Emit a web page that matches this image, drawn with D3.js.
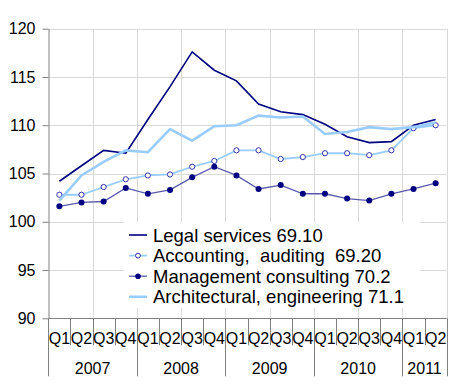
<!DOCTYPE html>
<html>
<head>
<meta charset="utf-8">
<script src="https://cdn.jsdelivr.net/npm/d3@7"></script>
<style>
  body { margin: 0; background: #fff; }
  svg { display: block; font-family: Arial, "Liberation Sans", sans-serif; }
  .grid line { stroke: #d9d9d9; stroke-width: 1; }
  .axis line, .axis path { stroke: #808080; }
  .tickLabel { font-size: 16px; fill: #000; }
  .legendText { font-size: 18.5px; fill: #000; }
</style>
</head>
<body>
<svg id="chart" width="450" height="389"></svg>
<script>
// quarters, 2007Q1 .. 2011Q2
var quarters = ['Q1', 'Q2', 'Q3', 'Q4', 'Q1', 'Q2', 'Q3', 'Q4', 'Q1', 'Q2', 'Q3', 'Q4',
                'Q1', 'Q2', 'Q3', 'Q4', 'Q1', 'Q2'];
var years = ['2007', '2008', '2009', '2010', '2011'];
var yearQuarters = [4, 4, 4, 4, 2];
var yTicks = [90, 95, 100, 105, 110, 115, 120];

var seriesNames = ['Legal services 69.10', 'Accounting,  auditing  69.20',
                   'Management consulting 70.2', 'Architectural, engineering 71.1'];

var legal      = [104.2, 105.8, 107.4, 107.1, 110.6, 114.0, 117.6, 115.7, 114.6, 112.2,
                  111.4, 111.1, 110.1, 108.8, 108.2, 108.3, 110.0, 110.6];
var accounting = [102.8, 102.8, 103.6, 104.4, 104.8, 104.9, 105.7, 106.3, 107.4, 107.4,
                  106.5, 106.7, 107.1, 107.1, 106.9, 107.4, 109.7, 110.0];
var management = [101.6, 102.0, 102.1, 103.5, 102.9, 103.3, 104.6, 105.7, 104.8, 103.4,
                  103.8, 102.9, 102.9, 102.4, 102.2, 102.9, 103.4, 104.0];
var architect  = [102.2, 104.8, 106.2, 107.4, 107.2, 109.6, 108.4, 109.9, 110.0, 111.0,
                  110.8, 110.9, 109.1, 109.3, 109.8, 109.6, 109.8, 110.3];

var svg = d3.select('#chart');
var plotLeft = 48.3, plotRight = 446.7, plotTop = 28.7, plotBottom = 318.3;

var idx = d3.range(quarters.length);
var x = d3.scaleBand().domain(idx).range([plotLeft, plotRight]);
var y = d3.scaleLinear().domain([90, 120]).range([plotBottom, plotTop]);
var px = function(v) { return Math.round(v) + 0.5; };
var edge = function(i) { return px(plotLeft + i * x.bandwidth()); };

// gridlines
var grid = svg.append('g').classed('grid', true);
grid.selectAll('.h').data(yTicks).enter().append('line')
    .attr('x1', plotLeft).attr('x2', plotRight)
    .attr('y1', function(d) { return px(y(d)); })
    .attr('y2', function(d) { return px(y(d)); });
grid.selectAll('.v').data(idx.filter(function(i) { return i % 2 == 0 && i > 0; }).concat([quarters.length]))
    .enter().append('line')
    .attr('x1', edge).attr('x2', edge)
    .attr('y1', plotTop).attr('y2', plotBottom);

// y axis
var yAxis = svg.append('g').classed('axis', true)
    .attr('transform', 'translate(' + px(plotLeft) + ',0)')
    .call(d3.axisLeft(y).tickValues(yTicks).tickSize(6).tickSizeOuter(0).tickPadding(7));
yAxis.select('.domain').attr('stroke', '#808080');
yAxis.selectAll('.tick line').attr('stroke', '#808080');
yAxis.selectAll('.tick text').attr('font-size', 16).attr('font-family', 'Arial, "Liberation Sans", sans-serif')
    .attr('fill', '#000');

// x axis with quarter and year separators
var xa = svg.append('g').classed('axis', true);
xa.append('line')
    .attr('x1', plotLeft).attr('x2', plotRight)
    .attr('y1', px(plotBottom)).attr('y2', px(plotBottom));
xa.selectAll('.qsep').data(d3.range(1, quarters.length)).enter().append('line')
    .attr('x1', edge).attr('x2', edge)
    .attr('y1', plotBottom).attr('y2', plotBottom + 27);
var yearStarts = [0];
yearQuarters.forEach(function(n, i) { yearStarts.push(yearStarts[i] + n); });
xa.selectAll('.ysep').data(yearStarts).enter().append('line')
    .attr('x1', edge).attr('x2', edge)
    .attr('y1', plotBottom).attr('y2', plotBottom + 58);
xa.selectAll('.qlab').data(idx).enter().append('text').classed('tickLabel', true)
    .attr('x', function(i) { return x(i) + x.bandwidth() / 2; })
    .attr('y', plotBottom + 26)
    .attr('text-anchor', 'middle')
    .text(function(i) { return quarters[i]; });
xa.selectAll('.ylab').data(years).enter().append('text').classed('tickLabel', true)
    .attr('x', function(d, i) { return plotLeft + (yearStarts[i] + yearQuarters[i] / 2) * x.bandwidth(); })
    .attr('y', plotBottom + 56)
    .attr('text-anchor', 'middle')
    .text(function(d) { return d; });

// series
var cx = function(d, i) { return x(i) + x.bandwidth() / 2; };
var line = d3.line().x(cx).y(function(d) { return y(d); });

svg.append('path').datum(legal).attr('d', line)
    .attr('fill', 'none').attr('stroke', '#000080').attr('stroke-width', 1.6);

svg.append('path').datum(accounting).attr('d', line)
    .attr('fill', 'none').attr('stroke', '#99ccff').attr('stroke-width', 1.8);
svg.selectAll('.acc').data(accounting).enter().append('circle')
    .attr('cx', cx).attr('cy', function(d) { return y(d); }).attr('r', 2.6)
    .attr('fill', '#fff').attr('stroke', '#3333aa').attr('stroke-width', 1);

svg.append('path').datum(management).attr('d', line)
    .attr('fill', 'none').attr('stroke', '#5a5aad').attr('stroke-width', 1.3);
svg.selectAll('.mgt').data(management).enter().append('circle')
    .attr('cx', cx).attr('cy', function(d) { return y(d); }).attr('r', 3)
    .attr('fill', '#000080');

svg.append('path').datum(architect).attr('d', line)
    .attr('fill', 'none').attr('stroke', '#99ccff').attr('stroke-width', 2.6);

// legend
var lg = svg.append('g').attr('transform', 'translate(124,222)');
lg.append('rect').attr('width', 296).attr('height', 86).attr('fill', '#fff');
var rowY = function(i) { return 13 + i * 20.6; };
var colors = ['#000080', '#99ccff', '#5a5aad', '#99ccff'];
var widths = [1.6, 1.8, 1.3, 2.6];
lg.selectAll('.ll').data(seriesNames).enter().append('line')
    .attr('x1', 5).attr('x2', 23)
    .attr('y1', function(d, i) { return rowY(i); })
    .attr('y2', function(d, i) { return rowY(i); })
    .attr('stroke', function(d, i) { return colors[i]; })
    .attr('stroke-width', function(d, i) { return widths[i]; });
lg.append('circle').attr('cx', 14).attr('cy', rowY(1)).attr('r', 2.4)
    .attr('fill', '#fff').attr('stroke', '#3333aa');
lg.append('circle').attr('cx', 14).attr('cy', rowY(2)).attr('r', 2.8)
    .attr('fill', '#000080');
lg.selectAll('.lt').data(seriesNames).enter().append('text').classed('legendText', true)
    .attr('x', 29)
    .attr('y', function(d, i) { return rowY(i) + 6.5; })
    .style('white-space', 'pre')
    .text(function(d) { return d; });
</script>
</body>
</html>
